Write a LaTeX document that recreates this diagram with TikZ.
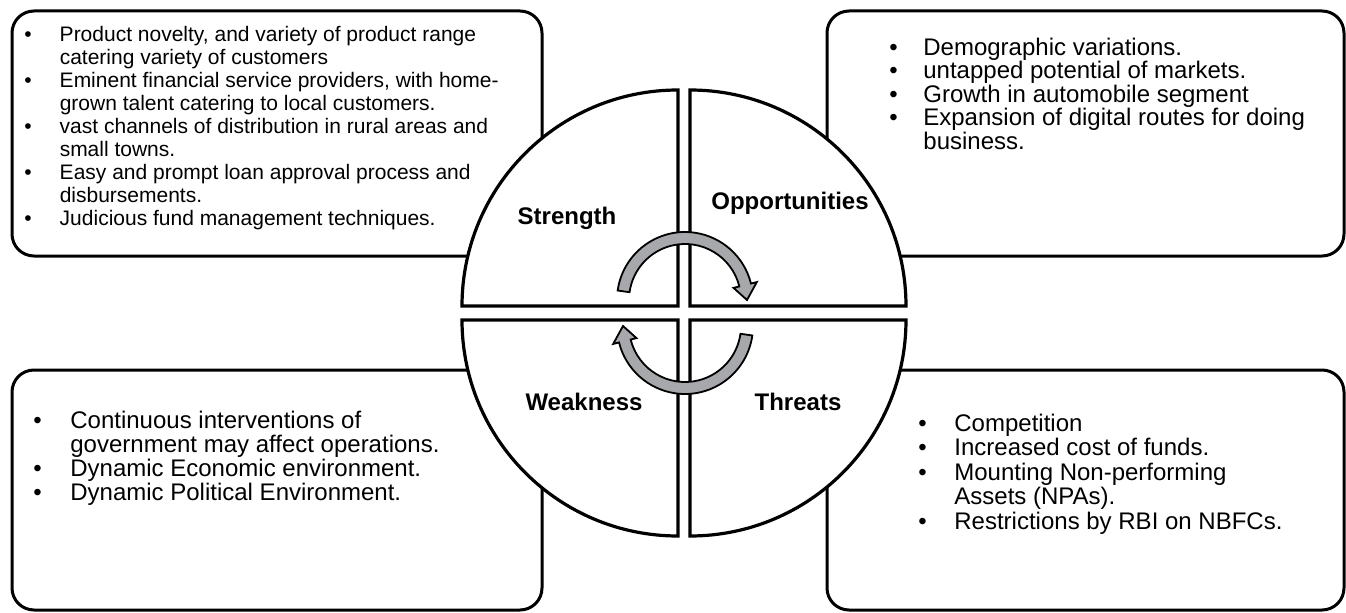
\documentclass[tikz,border=0pt]{standalone}
\usepackage{fontspec}
\setmainfont{Liberation Sans}
\usetikzlibrary{calc}

\definecolor{arrowgray}{RGB}{166,168,171}
\tikzset{
  listbox/.style={draw=black,line width=1.5pt,fill=white,rounded corners=11pt},
  quadrant/.style={draw=black,line width=1.6pt,fill=white,line join=miter},
  turnarrow/.style={draw=black,line width=0.9pt,fill=arrowgray,line join=miter},
  quadlabel/.style={font=\fontsize{12}{14}\selectfont\bfseries,inner sep=0pt},
  listtext/.style={anchor=base west,inner sep=0pt,align=left}
}
\newcommand{\bul}{\textbullet}

\begin{document}
\begin{tikzpicture}[x=0.5pt,y=0.5pt]
  % Configurable parameters
  \def\rad{216}
  \def\ro{68}
  \def\ri{56}
  \def\rh{74}
  \def\rl{50}
  \useasboundingbox (0,0) rectangle (1346,612);
  %
  % Text boxes
  \draw[listbox] (12,356) rectangle (542,601);
  \draw[listbox] (827,356) rectangle (1344,601);
  \draw[listbox] (12,2) rectangle (542,242);
  \draw[listbox] (827,2) rectangle (1344,242);
  %
  % Quarters of the circle
  \draw[quadrant] (678,306) -- ++(-\rad,0) arc (180:90:\rad) -- cycle;
  \draw[quadrant] (690,306) -- ++(\rad,0) arc (0:90:\rad) -- cycle;
  \draw[quadrant] (678,292) -- ++(-\rad,0) arc (180:270:\rad) -- cycle;
  \draw[quadrant] (690,292) -- ++(\rad,0) arc (0:-90:\rad) -- cycle;
  %
  % Cycle arrows
  \foreach \cy/\ang in {312/0,286/180}{
    \begin{scope}[shift={(685,\cy)},rotate=\ang]
      \draw[turnarrow] (172:\ro) arc (172:14:\ro) -- (14:\rh) -- (0:62)
        -- (14:\rl) -- (14:\ri) arc (14:172:\ri) -- cycle;
    \end{scope}
  }
  %
  % Quarter labels
  \node[quadlabel] (strength) at (567,394) {Strength};
  \node[quadlabel] (opportunities) at (790,409) {Opportunities};
  \node[quadlabel] (weakness) at (584,210) {Weakness};
  \node[quadlabel] (threats) at (798,210) {Threats};
  %
  % Lists
  \node[listtext,font=\fontsize{10.5}{11.5}\selectfont] (strlist) at (24,570) {%
    \begin{tabular}[t]{@{}l@{\hspace{14pt}}l@{}}
      \bul & Product novelty, and variety of product range\\
           & catering variety of customers\\
      \bul & Eminent financial service providers, with home-\\
           & grown talent catering to local customers.\\
      \bul & vast channels of distribution in rural areas and\\
           & small towns.\\
      \bul & Easy and prompt loan approval process and\\
           & disbursements.\\
      \bul & Judicious fund management techniques.
    \end{tabular}};
  \node[listtext,font=\fontsize{12}{10}\selectfont] (opplist) at (889,556.5) {%
    \begin{tabular}[t]{@{}l@{\hspace{12.8pt}}l@{}}
      \bul & Demographic variations.\\
      \bul & untapped potential of markets.\\
      \bul & Growth in automobile segment\\
      \bul & Expansion of digital routes for doing\\
           & business.
    \end{tabular}};
  \node[listtext,font=\fontsize{12}{11.25}\selectfont] (weaklist) at (33,184) {%
    \begin{tabular}[t]{@{}l@{\hspace{14.3pt}}l@{}}
      \bul & Continuous interventions of\\
           & government may affect operations.\\
      \bul & Dynamic Economic environment.\\
      \bul & Dynamic Political Environment.
    \end{tabular}};
  \node[listtext,font=\fontsize{12}{11.75}\selectfont] (thrlist) at (918,180.5) {%
    \begin{tabular}[t]{@{}l@{\hspace{13.8pt}}l@{}}
      \bul & Competition\\
      \bul & Increased cost of funds.\\
      \bul & Mounting Non-performing\\
           & Assets (NPAs).\\
      \bul & Restrictions by RBI on NBFCs.
    \end{tabular}};
\end{tikzpicture}
\end{document}
